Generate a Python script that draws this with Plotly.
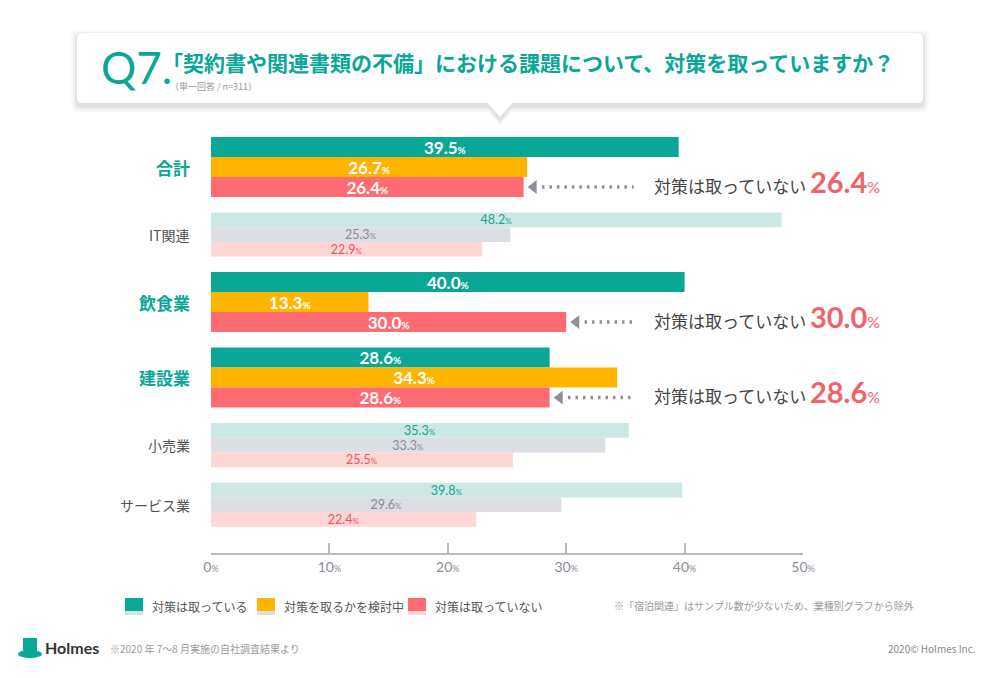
import plotly.graph_objects as go

# データ(単位: %)
categories = ["合計", "IT関連", "飲食業", "建設業", "小売業", "サービス業"]
highlight = [True, False, True, True, False, False]
taking = [39.5, 48.2, 40.0, 28.6, 35.3, 39.8]
considering = [26.7, 25.3, 13.3, 34.3, 33.3, 29.6]
not_taking = [26.4, 22.9, 30.0, 28.6, 25.5, 22.4]
series_names = ["対策は取っている", "対策を取るかを検討中", "対策は取っていない"]
tick_vals = [0, 10, 20, 30, 40, 50]

# 色
solid = ["#0aa696", "#ffb400", "#ff6b72"]
pale = ["#cde8e4", "#dcdee4", "#ffd6d6"]
pale_text = ["#13a493", "#8b8b97", "#ec5560"]
TEAL = "#0aa696"
JP = "'Noto Sans CJK JP', sans-serif"
NUM = "Lato, 'Noto Sans CJK JP', sans-serif"

# プロット領域 (px)
W, H = 1000, 678
PL, PR, PT, PB = 211, 803, 130, 553


def px(x):
    return (x - PL) / (PR - PL)


def py(y):
    return (PB - y) / (PB - PT)


# 棒の縦位置を計算 (y軸 = ピクセル)
THICK, THIN, GAP = 20, 14.7, 15.5
top = 137
bar_y = [[], [], []]
bar_h = []
group_c = []
for hl in highlight:
    h = THICK if hl else THIN
    for k in range(3):
        bar_y[k].append(top + h * (k + 0.5))
    bar_h.append(h)
    group_c.append(top + 1.5 * h)
    top += 3 * h + GAP

fig = go.Figure()

for k, vals in enumerate([taking, considering, not_taking]):
    colors, tcolors, tsizes, texts = [], [], [], []
    for v, hl in zip(vals, highlight):
        if hl:
            colors.append(solid[k])
            tcolors.append("white")
            tsizes.append(17)
            texts.append(f"<b>{v:.1f}<span style='font-size:10px'>%</span></b>")
        else:
            colors.append(pale[k])
            tcolors.append(pale_text[k])
            tsizes.append(12.5)
            texts.append(f"{v:.1f}<span style='font-size:8px'>%</span>")
    fig.add_trace(go.Bar(
        x=vals,
        y=bar_y[k],
        width=bar_h,
        orientation="h",
        marker=dict(color=colors, line=dict(width=0)),
        text=texts,
        textposition="inside",
        insidetextanchor="middle",
        constraintext="none",
        textangle=0,
        textfont=dict(family=NUM, color=tcolors, size=tsizes),
        name=series_names[k],
        showlegend=False,
        hoverinfo="skip",
    ))

annotations = []

# カテゴリ名
for c, yc, hl in zip(categories, group_c, highlight):
    annotations.append(dict(
        x=0, y=yc, xref="x", yref="y", text=f"<b>{c}</b>" if hl else c,
        xanchor="right", yanchor="middle", xshift=-19, showarrow=False,
        font=dict(family=JP, size=17 if hl else 14, color=TEAL if hl else "#555555"),
    ))

# 「対策は取っていない」の矢印
for i, hl in enumerate(highlight):
    if not hl:
        continue
    v = not_taking[i]
    yv = bar_y[2][i]
    fig.add_trace(go.Scatter(
        x=[v + 1.55, 35.7], y=[yv, yv], mode="lines",
        line=dict(color="#8e8e9c", width=3.5, dash="2.5px,5px"),
        showlegend=False, hoverinfo="skip",
    ))
    fig.add_trace(go.Scatter(
        x=[v + 0.85], y=[yv], mode="markers",
        marker=dict(symbol="triangle-left", size=12, color="#8e8e9c"),
        showlegend=False, hoverinfo="skip",
    ))
    annotations.append(dict(
        x=px(652), y=yv, xref="paper", yref="y", xanchor="left", yanchor="middle",
        showarrow=False, yshift=6,
        text=("対策は取っていない "
              f"<span style='font-family:Lato;font-size:29px;color:#f0636b'><b>{v:.1f}</b></span>"
              "<span style='font-family:Lato;font-size:16px;color:#f0636b'>%</span>"),
        font=dict(family=JP, size=17, color="#444444"),
    ))

shapes = []

# タイトルボックス (角丸 + 吹き出し)
bx0, bx1, by0, by1, r = 77, 923, 33, 103, 6


def box_path(dx=0, dy=0, grow=0):
    x0, x1, y0, y1 = bx0 - grow + dx, bx1 + grow + dx, by0 - grow + dy, by1 + grow + dy
    tx = 500 + dx
    pts = [
        f"M{px(x0 + r)},{py(y0)}", f"L{px(x1 - r)},{py(y0)}",
        f"Q{px(x1)},{py(y0)} {px(x1)},{py(y0 + r)}", f"L{px(x1)},{py(y1 - r)}",
        f"Q{px(x1)},{py(y1)} {px(x1 - r)},{py(y1)}",
        f"L{px(tx + 12)},{py(y1)}", f"L{px(tx)},{py(y1 + 14)}", f"L{px(tx - 12)},{py(y1)}",
        f"L{px(x0 + r)},{py(y1)}",
        f"Q{px(x0)},{py(y1)} {px(x0)},{py(y1 - r)}", f"L{px(x0)},{py(y0 + r)}",
        f"Q{px(x0)},{py(y0)} {px(x0 + r)},{py(y0)}", "Z",
    ]
    return " ".join(pts)


for g, a in [(6, 0.025), (4, 0.035), (2, 0.05)]:
    shapes.append(dict(type="path", xref="paper", yref="paper", path=box_path(0, 3, g),
                       fillcolor=f"rgba(0,0,0,{a})", line=dict(width=0), layer="below"))
shapes.append(dict(type="path", xref="paper", yref="paper", path=box_path(),
                   fillcolor="white", line=dict(width=0), layer="below"))

annotations += [
    dict(x=px(99), y=py(67), xref="paper", yref="paper", xanchor="left", yanchor="middle",
         text="Q7.", showarrow=False, font=dict(family="Lato", size=44, color=TEAL)),
    dict(x=px(160), y=py(62), xref="paper", yref="paper", xanchor="left", yanchor="middle",
         text="<b>「契約書や関連書類の不備」における課題について、対策を取っていますか？</b>",
         showarrow=False, font=dict(family=JP, size=21, color=TEAL)),
    dict(x=px(168), y=py(86), xref="paper", yref="paper", xanchor="left", yanchor="middle",
         text="（単一回答 / n=311）", showarrow=False,
         font=dict(family=JP, size=9, color="#999999")),
]

# 凡例
leg_x = [125, 257, 408]
for k, name in enumerate(series_names):
    x0 = leg_x[k]
    shapes.append(dict(type="rect", xref="paper", yref="paper", x0=px(x0), x1=px(x0 + 18),
                       y0=py(611), y1=py(598), fillcolor=solid[k], line=dict(width=0)))
    shapes.append(dict(type="rect", xref="paper", yref="paper", x0=px(x0), x1=px(x0 + 18),
                       y0=py(615), y1=py(611), fillcolor=pale[k], line=dict(width=0)))
    annotations.append(dict(x=px(x0 + 25), y=py(606), xref="paper", yref="paper",
                            xanchor="left", yanchor="middle", text=name, showarrow=False,
                            font=dict(family=JP, size=12, color="#555555")))

annotations += [
    dict(x=px(916), y=py(605), xref="paper", yref="paper", xanchor="right", yanchor="middle",
         text="※「宿泊関連」はサンプル数が少ないため、業種別グラフから除外", showarrow=False,
         font=dict(family=JP, size=10, color="#999999")),
    dict(x=px(108), y=py(648), xref="paper", yref="paper", xanchor="left", yanchor="middle",
         text="※2020 年 7〜8 月実施の自社調査結果より", showarrow=False,
         font=dict(family=JP, size=10, color="#999999")),
    dict(x=px(978), y=py(648), xref="paper", yref="paper", xanchor="right", yanchor="middle",
         text="2020© Holmes Inc.", showarrow=False,
         font=dict(family=JP, size=10, color="#888888")),
    dict(x=px(43), y=py(647), xref="paper", yref="paper", xanchor="left", yanchor="middle",
         text="<b>Holmes</b>", showarrow=False,
         font=dict(family="Lato", size=16, color="#333333")),
]

# ロゴ (シルクハット)
shapes += [
    dict(type="rect", xref="paper", yref="paper", x0=px(23), x1=px(37), y0=py(653), y1=py(638),
         fillcolor=TEAL, line=dict(width=0)),
    dict(type="circle", xref="paper", yref="paper", x0=px(18), x1=px(42), y0=py(658), y1=py(650),
         fillcolor=TEAL, line=dict(width=0)),
]

fig.update_layout(
    width=W, height=H,
    margin=dict(l=PL, r=W - PR, t=PT, b=H - PB, pad=0),
    paper_bgcolor="white", plot_bgcolor="white",
    barmode="overlay",
    showlegend=False,
    annotations=annotations,
    shapes=shapes,
    xaxis=dict(
        range=[0, 50], tickvals=tick_vals,
        ticktext=[f"{t}<span style='font-size:9px'>%</span>" for t in tick_vals],
        ticks="inside", ticklen=10, tickwidth=1.5, tickcolor="#b9b9c4",
        showline=True, linecolor="#b9b9c4", linewidth=1.5,
        showgrid=False, zeroline=False, fixedrange=True,
        tickfont=dict(family="Lato", size=14, color="#8d8d99"),
    ),
    yaxis=dict(range=[PB, PT], visible=False, showgrid=False, zeroline=False, fixedrange=True),
)

# ページ余白をなくして図を左上に合わせる
fig.write_html("out.html", config={"displayModeBar": False},
               post_script="document.body.style.margin='0';")
